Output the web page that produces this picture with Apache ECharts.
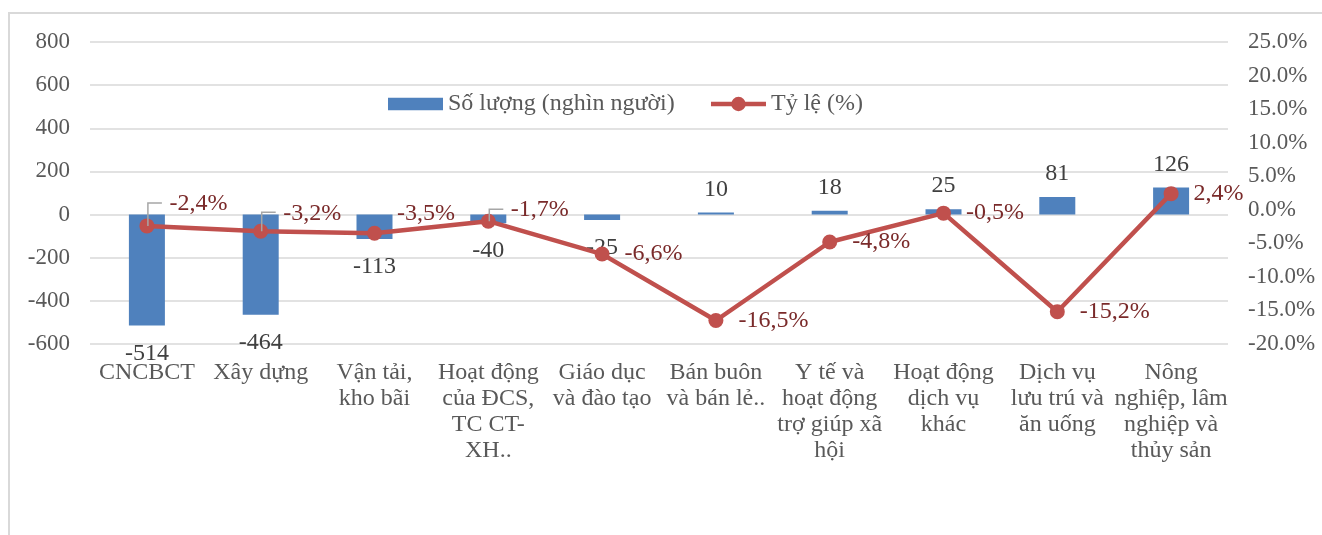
<!DOCTYPE html>
<html>
<head>
<meta charset="utf-8">
<script src="https://cdn.jsdelivr.net/npm/echarts@6/dist/echarts.min.js"></script>
<style>
html,body{margin:0;padding:0;background:#fff;}
#frame{position:absolute;left:8px;top:12px;width:1400px;height:600px;border:2px solid #d9d9d9;box-sizing:border-box;pointer-events:none;}
#chart{position:absolute;left:0;top:0;width:1322px;height:535px;}
</style>
</head>
<body>
<div id="chart"></div>
<div id="frame"></div>
<script>
var categories = [
  "CNCBCT",
  "Xây dựng",
  "Vận tải,\nkho bãi",
  "Hoạt động\ncủa ĐCS,\nTC CT-\nXH..",
  "Giáo dục\nvà đào tạo",
  "Bán buôn\nvà bán lẻ..",
  "Y tế và\nhoạt động\ntrợ giúp xã\nhội",
  "Hoạt động\ndịch vụ\nkhác",
  "Dịch vụ\nlưu trú và\năn uống",
  "Nông\nnghiệp, lâm\nnghiệp và\nthủy sản"
];
var soLuong = [-514, -464, -113, -40, -25, 10, 18, 25, 81, 126];
var tyLe = [-2.4, -3.2, -3.5, -1.7, -6.6, -16.5, -4.8, -0.5, -15.2, 2.4];
var leftTicks = {min: -600, max: 800, interval: 200};
var rightTicks = {min: -20, max: 25, interval: 5};
var labelLift = [-22, -18, -20, -11, 0, 0, 0, 0, 0, 0];
var leaderShown = [true, true, false, true, false, false, false, false, false, false];

var FONT = "'Liberation Serif', 'Times New Roman', serif";
var chart = echarts.init(document.getElementById('chart'), null, {renderer: 'canvas'});

var barData = soLuong.map(function (v) {
  return {
    value: v,
    label: {position: v < 0 ? 'bottom' : 'top', distance: v < 0 ? 16 : 11}
  };
});

var leaderData = tyLe.map(function (v, i) { return [i, v]; });

chart.setOption({
  animation: false,
  textStyle: {fontFamily: FONT},
  legend: {
    left: 383,
    top: 86,
    itemWidth: 55,
    itemHeight: 18,
    itemGap: 34,
    textStyle: {fontFamily: FONT, fontSize: 24, color: '#595959', lineHeight: 26},
    data: [
      {name: 'Số lượng (nghìn người)', icon: 'path://M0,0H53V12H0Z'},
      {name: 'Tỷ lệ (%)', lineStyle: {width: 4.5, color: '#c0504d'}}
    ],
    symbolKeepAspect: true
  },
  grid: {left: 90, right: 94, top: 42, bottom: 191, containLabel: false},
  xAxis: {
    type: 'category',
    data: categories,
    axisLine: {show: false, onZero: false},
    axisTick: {show: false},
    axisLabel: {
      interval: 0,
      margin: 16,
      fontFamily: FONT,
      fontSize: 24,
      lineHeight: 26,
      color: '#595959',
      align: 'center',
      verticalAlign: 'top'
    }
  },
  yAxis: [
    {
      type: 'value',
      min: leftTicks.min,
      max: leftTicks.max,
      interval: leftTicks.interval,
      axisLine: {show: false},
      axisTick: {show: false},
      axisLabel: {fontFamily: FONT, fontSize: 23, color: '#595959', margin: 20},
      splitLine: {lineStyle: {color: '#d9d9d9', width: 1.5}}
    },
    {
      type: 'value',
      min: rightTicks.min,
      max: rightTicks.max,
      interval: rightTicks.interval,
      axisLine: {show: false},
      axisTick: {show: false},
      splitLine: {show: false},
      axisLabel: {
        fontFamily: FONT, fontSize: 23, color: '#595959', margin: 20,
        formatter: function (v) { return v.toFixed(1) + '%'; }
      }
    }
  ],
  series: [
    {
      name: 'Số lượng (nghìn người)',
      type: 'bar',
      yAxisIndex: 0,
      data: barData,
      barWidth: 36,
      itemStyle: {color: '#4f81bd'},
      label: {
        show: true,
        fontFamily: FONT,
        fontSize: 24,
        color: '#404040'
      },
      z: 1
    },
    {
      name: 'Tỷ lệ (%)',
      type: 'line',
      yAxisIndex: 1,
      data: tyLe,
      symbol: 'circle',
      symbolSize: 15,
      lineStyle: {color: '#c0504d', width: 4.5},
      itemStyle: {color: '#c0504d'},
      label: {
        show: true,
        position: 'right',
        distance: 15,
        fontFamily: FONT,
        fontSize: 24,
        color: '#7a2a2a',
        formatter: function (p) { return p.value.toFixed(1).replace('.', ',') + '%'; }
      },
      labelLayout: function (p) {
        return {dy: labelLift[p.dataIndex]};
      },
      z: 3
    },
    {
      name: 'leader',
      type: 'custom',
      yAxisIndex: 1,
      data: leaderData,
      encode: {x: 0, y: 1},
      silent: true,
      z: 10,
      renderItem: function (params, api) {
        var i = api.value(0);
        if (!leaderShown[i]) return null;
        var p = api.coord([i, api.value(1)]);
        var top = p[1] + labelLift[i] - 1;
        return {
          type: 'polyline',
          z2: 100,
          shape: {points: [[p[0] + 1, p[1]], [p[0] + 1, top], [p[0] + 15, top]]},
          style: {stroke: '#a6a6a6', lineWidth: 1.5, fill: null}
        };
      }
    }
  ]
});
</script>
</body>
</html>
